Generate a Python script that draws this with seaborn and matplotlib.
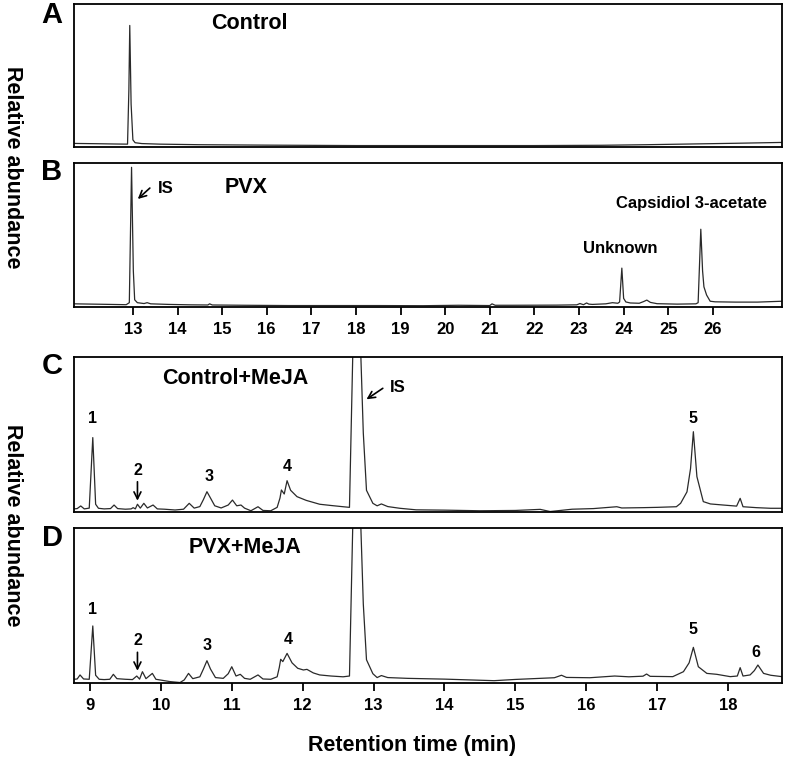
import pandas as pd
import matplotlib
matplotlib.use("Agg")
import matplotlib.pyplot as plt
import seaborn as sns

# Panel A - Control (retention time, relative abundance)
a_time = [11.68, 12.2, 12.6, 12.88, 12.91, 12.93, 12.96, 13.0, 13.05, 13.2, 13.6, 14.5,
          16.0, 18.0, 20.0, 22.0, 23.5, 24.5, 25.5, 26.5, 27.55]
a_abund = [2.5, 2.3, 2.1, 2.0, 40, 85, 30, 5, 3, 2.4, 2.0, 1.6,
           1.3, 1.0, 1.0, 1.0, 1.2, 1.6, 2.1, 2.6, 3.2]

# Panel B - PVX
b_time = [11.68, 12.3, 12.85, 12.92, 12.97, 13.01, 13.04, 13.1, 13.25, 13.32, 13.4, 13.8,
          14.3, 14.68, 14.72, 14.78, 15.5, 16.5, 17.5, 18.5, 19.5, 20.3, 21.0, 21.05,
          21.12, 21.5, 22.5, 22.95, 23.02, 23.1, 23.17, 23.22, 23.3, 23.6, 23.75, 23.87,
          23.91, 23.96, 24.0, 24.05, 24.15, 24.35, 24.45, 24.52, 24.6, 24.75, 25.2, 25.62,
          25.67, 25.73, 25.77, 25.8, 25.86, 25.94, 26.05, 26.5, 27.0, 27.55]
b_abund = [2.2, 1.9, 1.6, 3, 97, 25, 5, 3, 2.4, 3.0, 2.2, 1.8,
           1.5, 1.4, 2.2, 1.4, 1.2, 1.0, 1.0, 1.0, 0.9, 1.2, 1.0, 2.2,
           1.2, 1.2, 1.3, 1.5, 2.4, 1.6, 2.8, 2.0, 1.8, 2.2, 3.0, 2.6,
           3.5, 27, 6, 3.5, 2.8, 2.6, 3.8, 4.8, 3.2, 2.3, 2.0, 2.2,
           3.0, 54, 25, 14, 8.3, 4.0, 3.6, 3.4, 3.4, 4.0]

# Panel C - Control+MeJA
c_time = [8.775, 8.82, 8.87, 8.92, 8.99, 9.04, 9.08, 9.12, 9.2, 9.29, 9.34, 9.39,
          9.5, 9.58, 9.61, 9.64, 9.67, 9.71, 9.76, 9.81, 9.89, 9.95, 10.05, 10.2,
          10.32, 10.4, 10.47, 10.55, 10.6, 10.65, 10.7, 10.76, 10.85, 10.95, 11.01, 11.07,
          11.13, 11.18, 11.27, 11.37, 11.44, 11.55, 11.64, 11.68, 11.7, 11.74, 11.78, 11.83,
          11.92, 12.05, 12.24, 12.4, 12.57, 12.66, 12.72, 12.76, 12.8, 12.855, 12.9, 12.99,
          13.05, 13.11, 13.2, 13.37, 13.6, 14.0, 14.5, 15.0, 15.35, 15.49, 15.8, 16.1,
          16.43, 16.5, 16.8, 17.0, 17.27, 17.33, 17.42, 17.47, 17.51, 17.56, 17.65, 17.75,
          17.93, 18.12, 18.17, 18.21, 18.4, 18.6, 18.76]
c_abund = [2.0, 2.2, 3.9, 2.0, 2.5, 48, 5, 2.4, 2.0, 2.2, 4.5, 2.2,
           1.8, 2.0, 2.8, 2.0, 5.0, 2.5, 5.6, 2.6, 4.5, 2.0, 1.8, 1.3,
           1.8, 5.6, 2.5, 3.5, 8, 13.1, 9, 4, 2.6, 4.5, 7.7, 4.0,
           4.5, 2.5, 0.8, 3.4, 1.0, 0.8, 3.0, 9, 14.2, 11.6, 20.2, 14,
           9.9, 7.5, 5.0, 4.2, 3.4, 3.0, 130, 200, 130, 51, 14, 5.6,
           4.0, 5.2, 3.5, 2.4, 1.4, 1.2, 0.8, 1.0, 1.7, 0.3, 1.8, 2.2,
           3.4, 2.6, 2.8, 3.0, 3.4, 5.6, 13, 28, 51.8, 22.8, 6.7, 5.2,
           4.5, 3.8, 8.8, 3.4, 2.8, 2.4, 2.4]

# Panel D - PVX+MeJA
d_time = [8.775, 8.82, 8.86, 8.91, 8.99, 9.04, 9.08, 9.13, 9.2, 9.28, 9.33, 9.38,
          9.5, 9.6, 9.66, 9.7, 9.74, 9.79, 9.88, 9.93, 10.05, 10.13, 10.27, 10.33,
          10.39, 10.45, 10.55, 10.6, 10.65, 10.7, 10.77, 10.88, 10.95, 11.0, 11.06, 11.12,
          11.18, 11.26, 11.37, 11.44, 11.55, 11.64, 11.67, 11.69, 11.72, 11.78, 11.85, 11.93,
          12.01, 12.06, 12.15, 12.24, 12.4, 12.57, 12.66, 12.72, 12.76, 12.8, 12.855, 12.9,
          12.99, 13.05, 13.11, 13.2, 13.48, 14.0, 14.7, 15.0, 15.35, 15.55, 15.65, 15.72,
          16.05, 16.4, 16.6, 16.8, 16.85, 16.9, 17.22, 17.37, 17.45, 17.51, 17.58, 17.7,
          17.84, 18.03, 18.13, 18.17, 18.21, 18.31, 18.37, 18.42, 18.5, 18.6, 18.76]
d_abund = [2.4, 2.6, 5.2, 2.6, 2.4, 36.8, 5, 2.4, 2.2, 2.4, 5.6, 2.8,
           2.4, 2.2, 4.5, 2.5, 7.3, 2.8, 6.2, 2.4, 1.5, 0.9, 0.3, 2.0,
           6.2, 2.8, 4, 9, 14.4, 9, 3.5, 3.0, 6, 10.5, 4.5, 5.6,
           3, 2.4, 5.2, 2.6, 2.4, 4, 10, 15.3, 13.8, 19.1, 13, 9.5,
           8.4, 8.8, 6.5, 5.2, 4.5, 4.0, 4.5, 130, 200, 130, 51, 15,
           6, 3.5, 4.8, 3.5, 3, 2.5, 1.5, 2.3, 3.0, 3.4, 5.0, 3.6,
           3.4, 4.5, 4.0, 4.4, 5.8, 4.3, 4.1, 7.3, 13, 23, 10.5, 6.2,
           5.6, 4.1, 4.5, 9.9, 4.5, 5.2, 8, 11.6, 6.2, 5.0, 4.1]

top_ticks = list(range(13, 27))
bottom_ticks = list(range(9, 19))

sns.set_style("white")
plt.rcParams["font.family"] = ["Liberation Sans", "DejaVu Sans"]
plt.rcParams["font.weight"] = "bold"
plt.rcParams["text.color"] = "black"
plt.rcParams["xtick.color"] = "black"

fig = plt.figure(figsize=(7.85, 7.6), dpi=100)
L, W = 74 / 785, 708 / 785
ax_a = fig.add_axes([L, 1 - 147 / 760, W, 143 / 760])
ax_b = fig.add_axes([L, 1 - 307 / 760, W, 144 / 760])
ax_c = fig.add_axes([L, 1 - 512 / 760, W, 155 / 760])
ax_d = fig.add_axes([L, 1 - 683 / 760, W, 155 / 760])


def draw_trace(ax, t, v, xlim):
    df = pd.DataFrame({"time": t, "abundance": v})
    sns.lineplot(data=df, x="time", y="abundance", ax=ax, color="#2a2a2a",
                 linewidth=0.9, estimator=None, sort=False)
    ax.set_xlim(xlim)
    ax.set_ylim(0, 100)
    ax.set_xlabel("")
    ax.set_ylabel("")
    ax.set_yticks([])
    for s in ax.spines.values():
        s.set_linewidth(1.3)
        s.set_color("black")


draw_trace(ax_a, a_time, a_abund, (11.68, 27.55))
draw_trace(ax_b, b_time, b_abund, (11.68, 27.55))
draw_trace(ax_c, c_time, c_abund, (8.775, 18.76))
draw_trace(ax_d, d_time, d_abund, (8.775, 18.76))

ax_a.set_xticks([])
ax_c.set_xticks([])
ax_b.set_xticks(top_ticks)
ax_d.set_xticks(bottom_ticks)
for ax in (ax_b, ax_d):
    ax.tick_params(axis="x", direction="out", length=6, width=1.3, pad=5,
                   labelsize=12, bottom=True, colors="black")
    for lab in ax.get_xticklabels():
        lab.set_fontweight("bold")

arrow = dict(arrowstyle="->,head_length=0.5,head_width=0.25", lw=1.2,
             color="black", shrinkA=0, shrinkB=0)
big = dict(fontsize=15.5, fontweight="bold", ha="center", va="center")
small = dict(fontsize=12, fontweight="bold", ha="center", va="center")
num = dict(fontsize=11.5, fontweight="bold", ha="center", va="center")

# A
ax_a.text(15.6, 86.5, "Control", **big)

# B
ax_b.text(15.53, 83, "PVX", **big)
ax_b.annotate("", xy=(13.11, 75), xytext=(13.38, 82.6), arrowprops=arrow)
ax_b.text(13.56, 82.6, "IS", fontsize=12, fontweight="bold", ha="left", va="center")
ax_b.text(23.92, 40.8, "Unknown", **small)
ax_b.text(25.53, 72, "Capsidiol 3-acetate", **small)

# C
ax_c.text(11.05, 86.3, "Control+MeJA", **big)
ax_c.annotate("", xy=(12.90, 72.7), xytext=(13.13, 79.8), arrowprops=arrow)
ax_c.text(13.23, 80.2, "IS", fontsize=12, fontweight="bold", ha="left", va="center")
ax_c.text(9.04, 60, "1", **num)
ax_c.text(9.67, 26.6, "2", **num)
ax_c.annotate("", xy=(9.67, 7.3), xytext=(9.67, 19.5), arrowprops=arrow)
ax_c.text(10.68, 22.8, "3", **num)
ax_c.text(11.78, 29.2, "4", **num)
ax_c.text(17.50, 60.4, "5", **num)

# D
ax_d.text(11.19, 87.3, "PVX+MeJA", **big)
ax_d.text(9.03, 47.5, "1", **num)
ax_d.text(9.67, 27.3, "2", **num)
ax_d.annotate("", xy=(9.67, 7.9), xytext=(9.67, 19.8), arrowprops=arrow)
ax_d.text(10.65, 24.5, "3", **num)
ax_d.text(11.80, 28.2, "4", **num)
ax_d.text(17.50, 34.2, "5", **num)
ax_d.text(18.39, 19.5, "6", **num)

# panel letters
for letter, ypx in [("A", 15), ("B", 172.5), ("C", 366), ("D", 538)]:
    fig.text(52 / 785, 1 - ypx / 760, letter, fontsize=21, fontweight="bold",
             ha="center", va="center")

# axis labels
for ypx in (167, 525):
    fig.text(12 / 785, 1 - ypx / 760, "Relative abundance", rotation=270,
             fontsize=15.5, fontweight="bold", ha="center", va="center")
fig.text(412 / 785, 1 - 745 / 760, "Retention time (min)", fontsize=15.5,
         fontweight="bold", ha="center", va="center")

fig.savefig("out.png", dpi=100)
